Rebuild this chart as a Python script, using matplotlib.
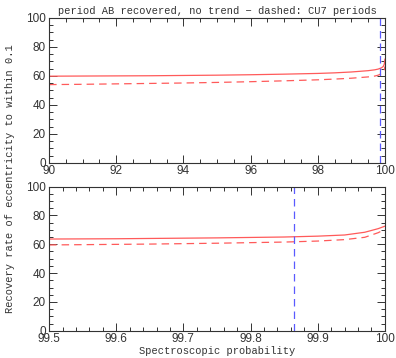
import matplotlib.pyplot as plt
from matplotlib.ticker import MultipleLocator

# top panel: full range of spectroscopic probability
x_top = [90, 91, 92, 93, 94, 95, 96, 97, 98, 98.5, 99, 99.5, 99.7, 99.8, 99.9, 99.95, 99.98, 100]
solid_top = [59.8, 59.9, 60.0, 60.1, 60.3, 60.5, 60.8, 61.2, 61.7, 62.1, 62.7, 63.6, 64.2, 64.7, 65.6, 66.5, 68.0, 71.5]
dashed_top = [54.0, 54.2, 54.5, 54.8, 55.1, 55.5, 56.0, 56.6, 57.3, 57.8, 58.4, 59.3, 59.9, 60.5, 61.6, 62.6, 64.0, 66.5]

# bottom panel: zoom on the last half percent
x_bot = [99.5, 99.55, 99.6, 99.65, 99.7, 99.75, 99.8, 99.85, 99.9, 99.94, 99.97, 99.99, 100]
solid_bot = [63.6, 63.7, 63.8, 64.0, 64.2, 64.4, 64.7, 65.0, 65.6, 66.4, 68.3, 70.8, 72.5]
dashed_bot = [59.5, 59.7, 59.9, 60.1, 60.4, 60.7, 61.1, 61.5, 62.2, 63.2, 64.8, 68.0, 70.3]

cu7_line = 99.865

red = '#ff5a5a'
blue = '#5a5aff'

fig = plt.figure(figsize=(3.96, 3.58), dpi=100)
ax1 = fig.add_axes([0.124, 0.545, 0.848, 0.405])
ax2 = fig.add_axes([0.124, 0.076, 0.848, 0.403])

ax1.plot(x_top, solid_top, color=red, lw=0.9)
ax1.plot(x_top, dashed_top, color=red, lw=0.9, ls=(0, (6, 4)))
ax1.axvline(cu7_line, color=blue, lw=0.9, ls=(0, (6, 4)))
ax1.set_xlim(90, 100)
ax1.xaxis.set_major_locator(MultipleLocator(2))
ax1.xaxis.set_minor_locator(MultipleLocator(0.5))

ax2.plot(x_bot, solid_bot, color=red, lw=0.9)
ax2.plot(x_bot, dashed_bot, color=red, lw=0.9, ls=(0, (6, 4)))
ax2.axvline(cu7_line, color=blue, lw=0.9, ls=(0, (6, 4)))
ax2.set_xlim(99.5, 100)
ax2.xaxis.set_minor_locator(MultipleLocator(0.02))
ax2.set_xticks([99.5, 99.6, 99.7, 99.8, 99.9, 100])
ax2.set_xticklabels(['99.5', '99.6', '99.7', '99.8', '99.9', '100'])

for ax in (ax1, ax2):
    ax.set_ylim(0, 100)
    ax.yaxis.set_major_locator(MultipleLocator(20))
    ax.yaxis.set_minor_locator(MultipleLocator(5))
    ax.tick_params(which='both', direction='in', top=True, right=True,
                   labelsize=8.5, colors='#333333', width=0.7)
    ax.tick_params(which='major', length=6)
    ax.tick_params(which='minor', length=3)
    ax.tick_params(axis='x', pad=1.5)
    ax.tick_params(axis='y', pad=2.5)
    for s in ax.spines.values():
        s.set_linewidth(0.8)
        s.set_color('#333333')
    for lab in ax.get_xticklabels() + ax.get_yticklabels():
        lab.set_family('Liberation Sans')

ax1.set_title('period AB recovered, no trend \u2212 dashed: CU7 periods',
              fontsize=7.5, family='Liberation Mono', pad=3, color='#333333')
ax2.set_xlabel('Spectroscopic probability', fontsize=7.5,
               family='Liberation Mono', labelpad=0.5, color='#333333')
fig.text(0.025, 0.5, 'Recovery rate of eccentricity to within 0.1', rotation=90,
         ha='center', va='center', fontsize=7.5, family='Liberation Mono',
         color='#333333')

fig.savefig('out.png', dpi=100)
